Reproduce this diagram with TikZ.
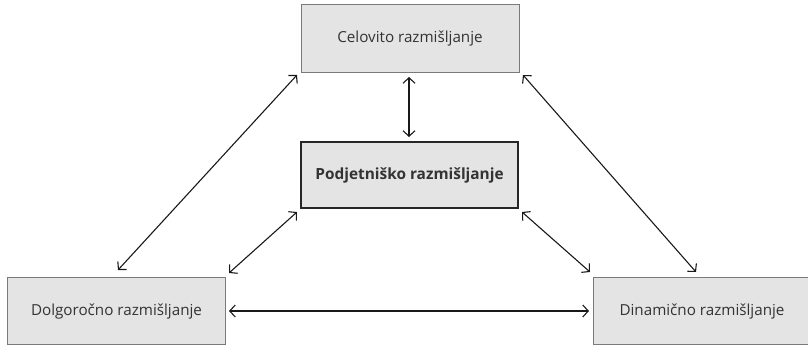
\documentclass[tikz,border=0pt]{standalone}
\usepackage{fontspec}
\setmainfont{Open Sans}
\usetikzlibrary{arrows.meta}
\definecolor{boxfill}{HTML}{E4E4E4}
\definecolor{boxline}{HTML}{7A7A7A}
\definecolor{txt}{HTML}{333333}
\begin{document}
\begin{tikzpicture}[x=1pt,y=-1pt,
  thinkbox/.style={draw=boxline, line width=1pt, fill=boxfill, minimum width=218pt,
    minimum height=67pt, inner sep=0pt, text=txt, font=\fontsize{15.2}{17}\selectfont},
  corebox/.style={draw=black!85, line width=2.4pt, fill=boxfill, minimum width=217pt,
    minimum height=66pt, inner sep=0pt, text=txt, font=\fontsize{15.4}{17}\selectfont\bfseries},
  link/.style={draw=black!90, line width=1.1pt, {Straight Barb[length=5.5pt,width=12pt]}-{Straight Barb[length=5.5pt,width=12pt]}}]
\useasboundingbox (0,0) rectangle (808,345);
\node[thinkbox] (top) at (410,38.5) {Celovito razmišljanje};
\node[corebox] (core) at (409.5,175) {Podjetniško razmišljanje};
\node[thinkbox] (left) at (116.5,311) {Dolgoročno razmišljanje};
\node[thinkbox] (right) at (702,311) {Dinamično razmišljanje};
\coordinate (a1) at (297,75);   \coordinate (a2) at (118,270);
\coordinate (b1) at (297,212);  \coordinate (b2) at (229,273);
\coordinate (c1) at (229,311);  \coordinate (c2) at (589,311);
\coordinate (d1) at (522,212);  \coordinate (d2) at (590,272);
\coordinate (e1) at (523,75);   \coordinate (e2) at (696,272);
\coordinate (f1) at (409,77);   \coordinate (f2) at (409,137);
\draw[link] (a1) -- (a2);
\draw[link] (b1) -- (b2);
\draw[link] (c1) -- (c2);
\draw[link] (d1) -- (d2);
\draw[link] (e1) -- (e2);
\draw[link] (f1) -- (f2);
\end{tikzpicture}
\end{document}
